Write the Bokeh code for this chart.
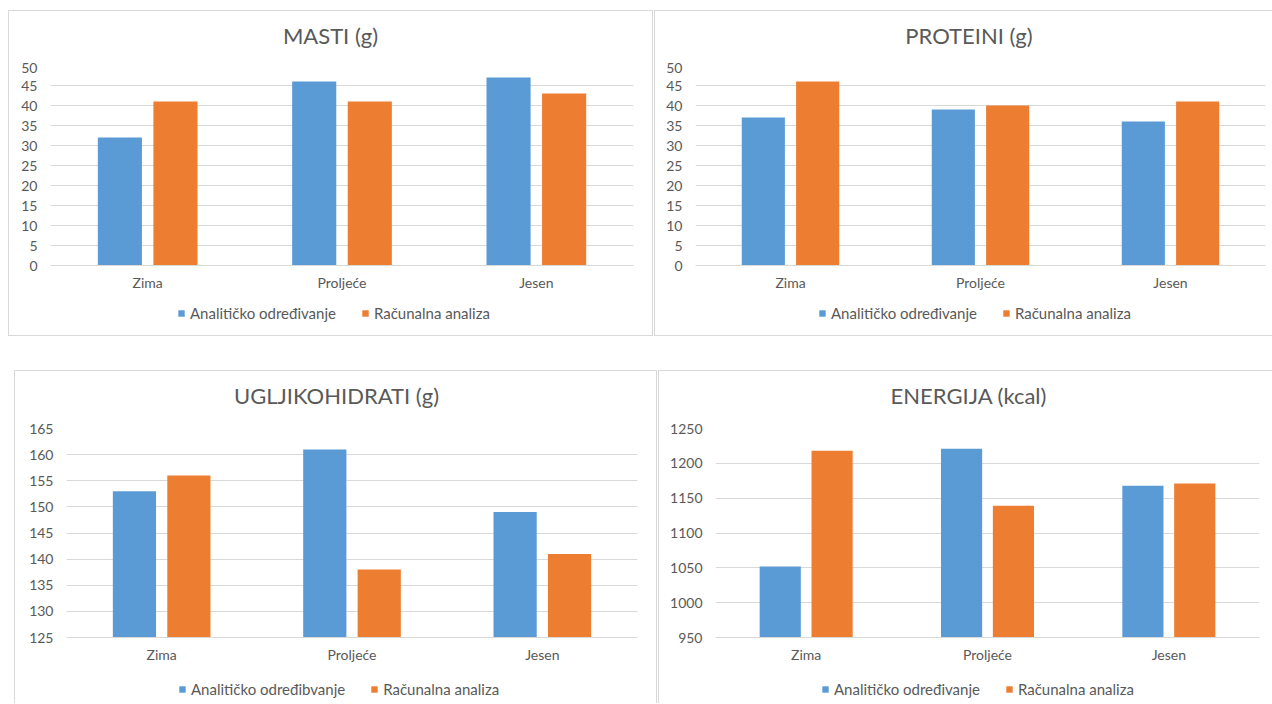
from bokeh.plotting import figure
from bokeh.models import (ColumnDataSource, FactorRange, Range1d, SingleIntervalTicker,
                          Legend, LegendItem, Div)
from bokeh.transform import dodge
from bokeh.layouts import row, column
from bokeh.embed import file_html
from bokeh.resources import INLINE

# Seasons on the category axis
seasons = ["Zima", "Proljeće", "Jesen"]

# Fat (g)
masti_analiticko = [32, 46, 47]
masti_racunalno = [41, 41, 43]

# Protein (g)
proteini_analiticko = [37, 39, 36]
proteini_racunalno = [46, 40, 41]

# Carbohydrates (g)
ugljikohidrati_analiticko = [153, 161, 149]
ugljikohidrati_racunalno = [156, 138, 141]

# Energy (kcal)
energija_analiticko = [1052, 1221, 1168]
energija_racunalno = [1218, 1139, 1171]

BLUE = "#5B9BD5"
ORANGE = "#ED7D31"
TEXT = "#595959"
GRID = "#D9D9D9"
FONT = "Lato"

BAR_W = 0.227
BAR_OFF = 0.143
AXIS_BAND = 32
TITLE_H = 52


def panel(title, a_vals, r_vals, y0, y1, step, a_label, frame_w, frame_h,
          borders, total_h, title_indent, legend_xy, margin, shadow):
    left, right, top = borders
    total_w = left + frame_w + right
    src = ColumnDataSource(dict(season=seasons, a=a_vals, r=r_vals))

    # chart title as a text block above the plot
    head = Div(text=title, width=total_w, height=TITLE_H, margin=0,
               styles={"font-family": FONT, "font-size": "22px", "color": TEXT,
                       "text-align": "center", "line-height": f"{TITLE_H}px",
                       "text-indent": f"{title_indent}px", "white-space": "nowrap"})

    # bars and axes
    p = figure(x_range=FactorRange(factors=seasons), y_range=Range1d(y0, y1),
               frame_width=frame_w, frame_height=frame_h,
               output_backend="svg", toolbar_location=None,
               min_border_left=left, min_border_right=right,
               min_border_top=top - TITLE_H, min_border_bottom=AXIS_BAND)
    p.title.text = ""
    p.title.visible = False
    p.border_fill_color = None
    p.background_fill_color = None
    p.outline_line_color = None

    p.vbar(x=dodge("season", -BAR_OFF, range=p.x_range), top="a", bottom=y0,
           width=BAR_W, source=src, fill_color=BLUE, line_color=None)
    p.vbar(x=dodge("season", BAR_OFF, range=p.x_range), top="r", bottom=y0,
           width=BAR_W, source=src, fill_color=ORANGE, line_color=None)

    p.yaxis.ticker = SingleIntervalTicker(interval=step)
    p.yaxis.axis_line_color = None
    p.yaxis.major_tick_line_color = None
    p.yaxis.major_tick_out = 0
    p.yaxis.major_tick_in = 0
    p.yaxis.minor_tick_line_color = None
    p.yaxis.major_label_standoff = 9
    p.yaxis.major_label_text_font = FONT
    p.yaxis.major_label_text_font_size = "14px"
    p.yaxis.major_label_text_color = TEXT

    p.xaxis.axis_line_color = GRID
    p.xaxis.major_tick_line_color = None
    p.xaxis.major_tick_out = 0
    p.xaxis.major_tick_in = 0
    p.xaxis.minor_tick_line_color = None
    p.xaxis.major_label_standoff = 8
    p.xaxis.major_label_text_font = FONT
    p.xaxis.major_label_text_font_size = "14px"
    p.xaxis.major_label_text_color = TEXT

    p.xgrid.grid_line_color = None
    p.ygrid.grid_line_color = GRID
    p.ygrid.ticker = SingleIntervalTicker(interval=step)

    # legend strip under the chart; its series sit outside the strip's view
    leg_h = total_h - (top + frame_h + AXIS_BAND)
    lg = figure(width=total_w, height=leg_h, x_range=FactorRange(factors=seasons),
                y_range=Range1d(2 * y1, 3 * y1),
                x_axis_location=None, y_axis_location=None,
                output_backend="svg", toolbar_location=None, min_border=0)
    lg.title.text = ""
    lg.title.visible = False
    lg.border_fill_color = None
    lg.background_fill_color = None
    lg.outline_line_color = None
    lg.grid.visible = False
    sw_a = lg.vbar(x="season", top="a", bottom=y0, width=BAR_W, source=src,
                   fill_color=BLUE, line_color=None)
    sw_r = lg.vbar(x="season", top="r", bottom=y0, width=BAR_W, source=src,
                   fill_color=ORANGE, line_color=None)
    legend = Legend(items=[LegendItem(label=a_label, renderers=[sw_a], index=0),
                           LegendItem(label="Računalna analiza", renderers=[sw_r], index=0)],
                    orientation="horizontal", location=legend_xy,
                    glyph_width=8, glyph_height=8, label_standoff=5, spacing=25,
                    padding=0, margin=0, border_line_color=None,
                    background_fill_alpha=0,
                    label_text_font=FONT, label_text_font_size="15px",
                    label_text_color=TEXT)
    lg.add_layout(legend)

    return column(head, p, lg, margin=margin,
                  styles={"background-color": "white", "box-shadow": shadow})


p1 = panel("MASTI (g)", masti_analiticko, masti_racunalno, 0, 50, 5,
           "Analitičko određivanje", 583, 200, (42, 20, 55), 326, 0, (127, 14),
           (10, 0, 0, 8), f"inset 0 0 0 1px {GRID}")
p2 = panel("PROTEINI (g)", proteini_analiticko, proteini_racunalno, 0, 50, 5,
           "Analitičko određivanje", 570, 200, (41, 7, 55), 326, 12, (123, 14),
           (10, 0, 0, 1),
           f"inset 1px 0 0 0 {GRID}, inset 0 1px 0 0 {GRID}, inset 0 -1px 0 0 {GRID}")
p3 = panel("UGLJIKOHIDRATI (g)", ugljikohidrati_analiticko, ugljikohidrati_racunalno,
           125, 165, 5, "Analitičko određibvanje", 571, 209, (52, 20, 58), 333, 2,
           (112, 5), (34, 0, 0, 14),
           f"inset 1px 0 0 0 {GRID}, inset 0 1px 0 0 {GRID}, inset -1px 0 0 0 {GRID}")
p4 = panel("ENERGIJA (kcal)", energija_analiticko, energija_racunalno,
           950, 1250, 50, "Analitičko određivanje", 544, 209, (57, 13, 58), 333, 7,
           (106, 5), (34, 0, 0, 1),
           f"inset 1px 0 0 0 {GRID}, inset 0 1px 0 0 {GRID}")

layout = column(row(p1, p2), row(p3, p4))

open("out.html", "w").write(file_html(layout, INLINE))
